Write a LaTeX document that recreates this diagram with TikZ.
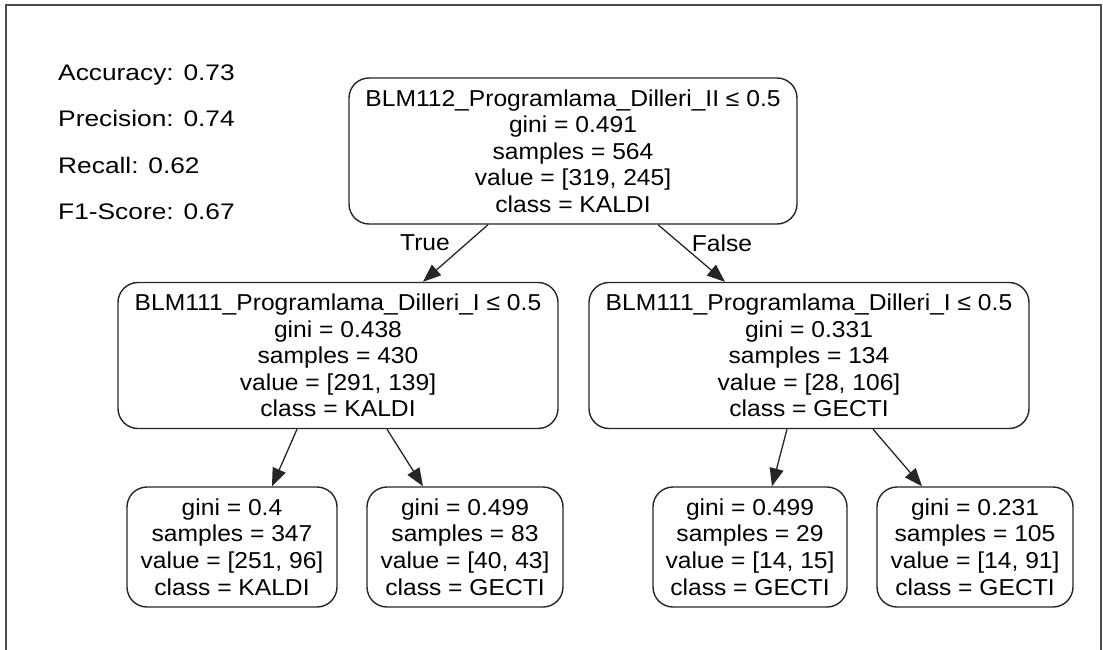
\documentclass[tikz,border=0pt]{standalone}
\usepackage{fontspec}
\setmainfont{Liberation Sans}
\newfontfamily\treefont[FakeStretch=1.07]{Liberation Sans}
\newfontfamily\metfont[FakeStretch=1.17]{Liberation Sans}
\usetikzlibrary{arrows.meta}
\begin{document}
\begin{tikzpicture}[x=1pt,y=-1pt,
  box/.style={draw=black!85, line width=1.4pt, rounded corners=20pt, align=center,
    font=\treefont\fontsize{23}{26.6}\selectfont, inner sep=0pt},
  inner/.style={box, minimum height=146pt},
  leaf/.style={box, minimum height=120pt},
  arr/.style={draw=black!85, line width=1.3pt, -{Triangle[length=18pt,width=14pt]}},
  edgelab/.style={font=\treefont\fontsize{23}{26.6}\selectfont, inner sep=0pt},
  metric/.style={font=\metfont\fontsize{22.5}{26}\selectfont, anchor=base west, inner sep=0pt}
]
\useasboundingbox (0,0) rectangle (1103,650);
\draw[gray!60!black, line width=1.5pt] (6,650) -- (6,5) -- (1101,5) -- (1101,650);

\node[metric] (acc) at (58,81) {Accuracy: 0.73};
\node[metric] (pre) at (58,127) {Precision: 0.74};
\node[metric] (rec) at (58,174) {Recall: 0.62};
\node[metric] (f1) at (58,219) {F1-Score: 0.67};

\node[inner, minimum width=448pt] (root) at (573,151)
  {BLM112\_Programlama\_Dilleri\_II ≤ 0.5\\gini = 0.491\\samples = 564\\value = [319, 245]\\class = KALDI};
\node[inner, minimum width=440pt] (lm) at (338,355.5)
  {BLM111\_Programlama\_Dilleri\_I ≤ 0.5\\gini = 0.438\\samples = 430\\value = [291, 139]\\class = KALDI};
\node[inner, minimum width=440pt] (rm) at (809,355.5)
  {BLM111\_Programlama\_Dilleri\_I ≤ 0.5\\gini = 0.331\\samples = 134\\value = [28, 106]\\class = GECTI};
\node[leaf, minimum width=210pt] (ll) at (232,547)
  {gini = 0.4\\samples = 347\\value = [251, 96]\\class = KALDI};
\node[leaf, minimum width=196pt] (lr) at (465,547)
  {gini = 0.499\\samples = 83\\value = [40, 43]\\class = GECTI};
\node[leaf, minimum width=194pt] (rl) at (750,547)
  {gini = 0.499\\samples = 29\\value = [14, 15]\\class = GECTI};
\node[leaf, minimum width=196pt] (rr) at (975,547)
  {gini = 0.231\\samples = 105\\value = [14, 91]\\class = GECTI};

\draw[arr] ([xshift=-85pt]root.south) -- ([xshift=85pt]lm.north);
\draw[arr] ([xshift=85pt]root.south) -- ([xshift=-84pt]rm.north);
\draw[arr] ([xshift=-41pt]lm.south) -- ([xshift=40pt]ll.north);
\draw[arr] ([xshift=49pt]lm.south) -- ([xshift=-42pt]lr.north);
\draw[arr] ([xshift=-22pt]rm.south) -- ([xshift=22pt]rl.north);
\draw[arr] ([xshift=64pt]rm.south) -- ([xshift=-53pt]rr.north);

\node[edgelab] (t) at (425,243) {True};
\node[edgelab] (f) at (722,243) {False};
\end{tikzpicture}
\end{document}
